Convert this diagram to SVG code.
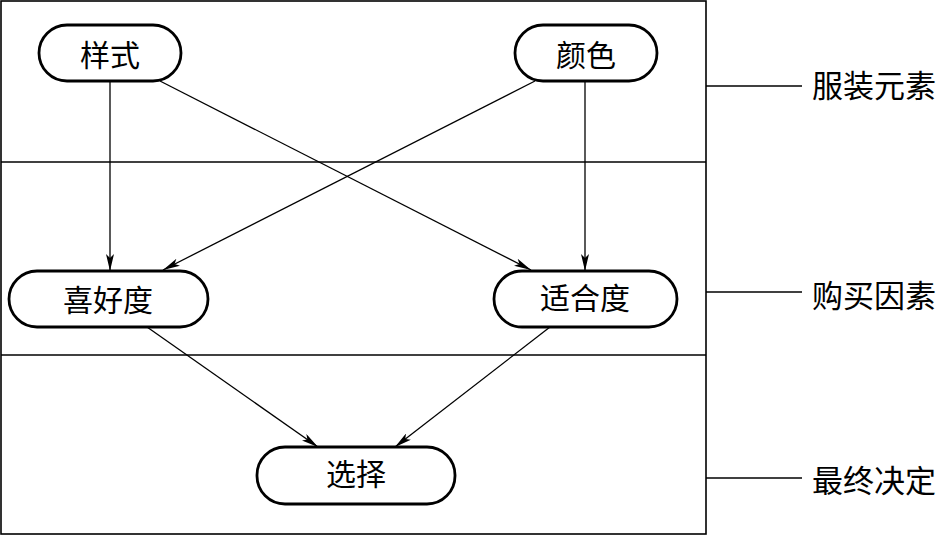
<svg xmlns="http://www.w3.org/2000/svg" width="940" height="536" viewBox="0 0 940 536">
<style>
.frame{fill:none;stroke:#000;stroke-width:1.6}
.node rect{fill:#fff;stroke:#000;stroke-width:2.8}
.t{font-family:"Liberation Serif","Noto Sans CJK SC",serif;font-size:30px;fill:#000;text-anchor:middle;dominant-baseline:central}
.lab{font-family:"Liberation Serif","Noto Sans CJK SC",serif;font-size:31px;fill:#000;dominant-baseline:central}
.c{fill:none;stroke:#000;stroke-width:1.3;marker-end:url(#ah)}
.tick{stroke:#000;stroke-width:1.5}
</style>
<defs>
<marker id="ah" viewBox="0 0 17 8" refX="17" refY="4" markerWidth="17" markerHeight="8" markerUnits="userSpaceOnUse" orient="auto">
<path d="M0,0 L17,4 L0,8 L4,4 z" fill="#000"/>
</marker>
</defs>
<g id="frame">
<rect class="frame" x="1" y="1" width="705" height="533"/>
<line class="tick" x1="1" y1="162" x2="706" y2="162"/>
<line class="tick" x1="1" y1="355" x2="706" y2="355"/>
<line class="tick" x1="706" y1="86" x2="802" y2="86"/>
<line class="tick" x1="706" y1="292" x2="802" y2="292"/>
<line class="tick" x1="706" y1="478" x2="802" y2="478"/>
<text class="lab" x="812" y="86">服装元素</text>
<text class="lab" x="812" y="296">购买因素</text>
<text class="lab" x="812" y="481">最终决定</text>
</g>
<g id="connectors">
<line class="c" x1="110" y1="81" x2="110" y2="271"/>
<line class="c" x1="160" y1="81" x2="531" y2="270"/>
<line class="c" x1="535" y1="81" x2="163" y2="270"/>
<line class="c" x1="585" y1="81" x2="585" y2="271"/>
<line class="c" x1="147" y1="327" x2="318" y2="447"/>
<line class="c" x1="550" y1="327" x2="395" y2="447"/>
</g>
<g id="n1" class="node"><rect x="39" y="25" width="142" height="56" rx="28"/><text class="t" x="110" y="55">样式</text></g>
<g id="n2" class="node"><rect x="515" y="25" width="142" height="56" rx="28"/><text class="t" x="586" y="55">颜色</text></g>
<g id="n3" class="node"><rect x="9" y="271" width="199" height="56" rx="28"/><text class="t" x="108" y="300">喜好度</text></g>
<g id="n4" class="node"><rect x="494" y="271" width="183" height="56" rx="28"/><text class="t" x="585" y="298">适合度</text></g>
<g id="n5" class="node"><rect x="257" y="447" width="198" height="57" rx="28"/><text class="t" x="356" y="474">选择</text></g>
</svg>
